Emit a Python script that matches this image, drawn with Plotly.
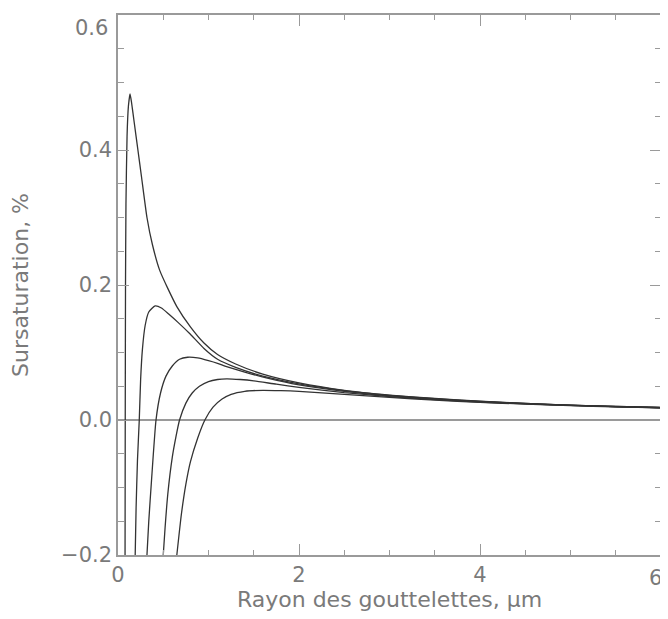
import plotly.graph_objects as go

# Droplet radius (µm) and supersaturation (%) for five Köhler curves
x1 = [0.078, 0.08, 0.083, 0.088, 0.1, 0.115, 0.133, 0.15, 0.18, 0.22, 0.26, 0.32, 0.38, 0.46, 0.55, 0.65, 0.8,
      0.95, 1.1, 1.3, 1.6, 2.0, 2.5, 3.0, 3.5, 4.0, 4.5, 5.0, 5.5, 6.0]
y1 = [-0.2, 0.0, 0.2, 0.32, 0.42, 0.465, 0.483, 0.47, 0.44, 0.40, 0.36, 0.30, 0.26, 0.222, 0.195, 0.168, 0.138,
      0.114, 0.097, 0.083, 0.068, 0.055, 0.044, 0.037, 0.032, 0.028, 0.0245, 0.022, 0.020, 0.0185]

x2 = [0.19, 0.2, 0.215, 0.235, 0.25, 0.27, 0.3, 0.34, 0.41, 0.48, 0.56, 0.66, 0.8, 0.95, 1.1, 1.3, 1.6, 2.0,
      2.5, 3.0, 3.5, 4.0, 4.5, 5.0, 5.5, 6.0]
y2 = [-0.2, -0.13, -0.06, 0.0, 0.06, 0.105, 0.14, 0.16, 0.169, 0.166, 0.157, 0.145, 0.127, 0.106, 0.09, 0.078,
      0.065, 0.0535, 0.0435, 0.0365, 0.0315, 0.0275, 0.0245, 0.022, 0.02, 0.0185]

x3 = [0.32, 0.34, 0.37, 0.42, 0.47, 0.53, 0.6, 0.68, 0.77, 0.88, 1.0, 1.1, 1.2, 1.4, 1.65, 2.0, 2.5, 3.0, 3.5,
      4.0, 4.5, 5.0, 5.5, 6.0]
y3 = [-0.2, -0.15, -0.09, 0.0, 0.04, 0.065, 0.08, 0.09, 0.093, 0.092, 0.088, 0.084, 0.079, 0.071, 0.062, 0.052,
      0.0425, 0.0358, 0.031, 0.0271, 0.0242, 0.0218, 0.0199, 0.0182]

x4 = [0.5, 0.52, 0.55, 0.6, 0.64, 0.68, 0.75, 0.82, 0.9, 1.0, 1.1, 1.2, 1.35, 1.5, 1.75, 2.0, 2.5, 3.0, 3.5,
      4.0, 4.5, 5.0, 5.5, 6.0]
y4 = [-0.2, -0.16, -0.11, -0.055, -0.025, 0.0, 0.025, 0.04, 0.05, 0.057, 0.06, 0.061, 0.06, 0.058, 0.053,
      0.0484, 0.0406, 0.0347, 0.0302, 0.0267, 0.0238, 0.0216, 0.0197, 0.0181]

x5 = [0.65, 0.7, 0.75, 0.8, 0.88, 0.96, 1.05, 1.15, 1.25, 1.4, 1.6, 1.8, 2.0, 2.5, 3.0, 3.5, 4.0, 4.5, 5.0,
      5.5, 6.0]
y5 = [-0.2, -0.14, -0.095, -0.062, -0.027, 0.0, 0.019, 0.031, 0.038, 0.0425, 0.044, 0.0435, 0.0425, 0.038,
      0.0335, 0.0295, 0.0262, 0.0235, 0.0213, 0.0195, 0.018]

curves = [(x1, y1), (x2, y2), (x3, y3), (x4, y4), (x5, y5)]

x_ticks = [0, 2, 4, 6]
x_tick_text = ["0", "2", "4", "6"]
y_ticks = [-0.2, 0.0, 0.2, 0.4, 0.6]
y_tick_text = ["\u22120.2", "0.0", "0.2", "0.4", "0.6"]

fig = go.Figure()
for xs, ys in curves:
    fig.add_trace(go.Scatter(x=xs, y=ys, mode="lines",
                             line=dict(color="#333333", width=1.3, shape="spline", smoothing=0.5),
                             showlegend=False, hoverinfo="skip"))

axis_color = "#9a9a9a"
font_color = "#7a7a7a"
tick_font = dict(family="DejaVu Sans", size=21, color=font_color)

# the last labels on each axis sit inside the edge (as in the original), so they are drawn as annotations
x_axis_text = x_tick_text[:-1] + [""]
y_axis_text = y_tick_text[:-1] + [""]
fig.add_annotation(x=x_ticks[-1], y=0, xref="x", yref="paper", text=x_tick_text[-1],
                   xanchor="right", yanchor="top", xshift=3, yshift=-9, showarrow=False, font=tick_font)
fig.add_annotation(x=0, y=y_ticks[-1], xref="paper", yref="y", text=y_tick_text[-1],
                   xanchor="right", yanchor="top", xshift=-8, yshift=1, showarrow=False, font=tick_font)

# the page body adds an 8 px offset, so the figure is sized to fit the window
fig.update_layout(
    width=660, height=611,
    margin=dict(l=110, r=7, t=7, b=64),
    paper_bgcolor="white", plot_bgcolor="white",
    font=dict(family="DejaVu Sans", size=21, color=font_color),
)
fig.update_xaxes(
    range=[0, 6], tickvals=x_ticks, ticktext=x_axis_text, automargin=False,
    ticklabeloverflow="allow",
    showgrid=False, zeroline=False,
    showline=True, linecolor=axis_color, linewidth=1.5, mirror="ticks",
    ticks="inside", ticklen=11, tickwidth=1.2, tickcolor=axis_color,
    minor=dict(dtick=0.5, ticks="inside", ticklen=5, tickwidth=1, tickcolor=axis_color, showgrid=False),
    tickfont=tick_font,
    title=dict(text="Rayon des gouttelettes, \u03bcm", font=dict(size=22, color=font_color), standoff=4),
)
fig.update_yaxes(
    range=[-0.2, 0.6], tickvals=y_ticks, ticktext=y_axis_text, automargin=False,
    ticklabeloverflow="allow",
    showgrid=False, zeroline=True, zerolinecolor=axis_color, zerolinewidth=1.5,
    showline=True, linecolor=axis_color, linewidth=1.5, mirror="ticks",
    ticks="inside", ticklen=11, tickwidth=1.2, tickcolor=axis_color,
    minor=dict(dtick=0.05, ticks="inside", ticklen=6, tickwidth=1, tickcolor=axis_color, showgrid=False),
    tickfont=tick_font,
    title=dict(text="Sursaturation, %", font=dict(size=22, color=font_color), standoff=26),
)

fig.write_html("out.html")
